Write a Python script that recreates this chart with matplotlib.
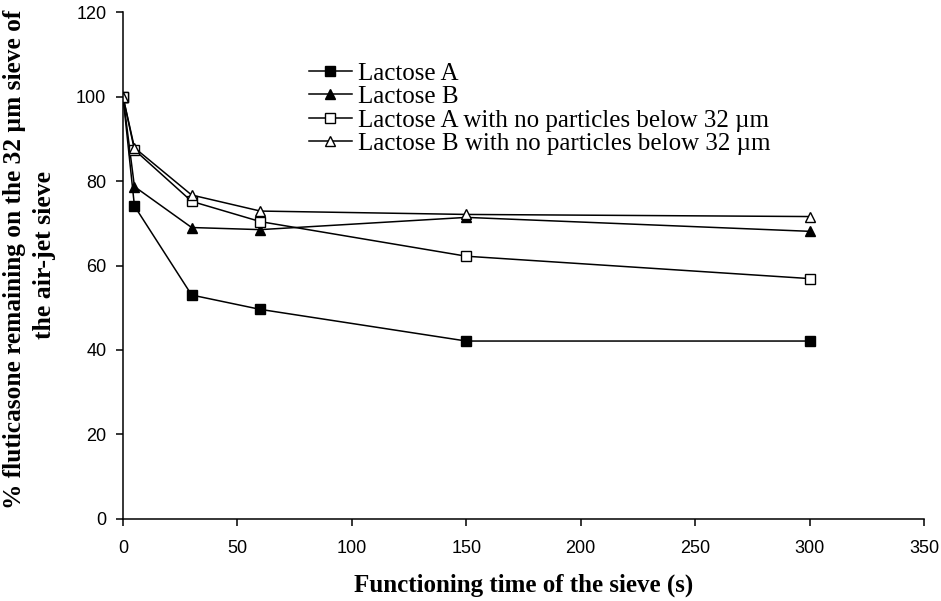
import numpy as np
import matplotlib
matplotlib.use('Agg')
import matplotlib.pyplot as plt

time_s = [0, 5, 30, 60, 150, 300]
lactose_a = [100, 74.1, 53.0, 49.6, 42.1, 42.1]
lactose_b = [100, 78.7, 69.0, 68.5, 71.4, 68.1]
lactose_a_np = [100, 87.4, 75.2, 70.4, 62.2, 56.9]
lactose_b_np = [100, 87.9, 76.7, 72.9, 72.1, 71.6]
labels = ['Lactose A', 'Lactose B',
          'Lactose A with no particles below 32 \u00b5m',
          'Lactose B with no particles below 32 \u00b5m']

fig = plt.figure(figsize=(9.41, 6.01), dpi=100)
ax = fig.add_axes([123/941, 82.3/601, 801/941, 506.4/601])

ax.plot(time_s, lactose_a, color='black', lw=1.1, marker='s', ms=6.5,
        mfc='black', mec='black', label=labels[0])
ax.plot(time_s, lactose_b, color='black', lw=1.1, marker='^', ms=7.5,
        mfc='black', mec='black', label=labels[1])
ax.plot(time_s, lactose_a_np, color='black', lw=1.1, marker='s', ms=6.5,
        mfc='white', mec='black', label=labels[2])
ax.plot(time_s, lactose_b_np, color='black', lw=1.1, marker='^', ms=7.5,
        mfc='white', mec='black', label=labels[3])

ax.set_xlim(0, 350)
ax.set_ylim(0, 120)
ax.set_xticks(np.arange(0, 351, 50))
ax.set_yticks(np.arange(0, 121, 20))
for s in ['top', 'right']:
    ax.spines[s].set_visible(False)
for s in ['left', 'bottom']:
    ax.spines[s].set_linewidth(1.1)
ax.tick_params(direction='out', length=5, width=1.1, labelsize=13)
ax.tick_params(axis='x', pad=10)
ax.tick_params(axis='y', pad=7)
for t in ax.get_xticklabels() + ax.get_yticklabels():
    t.set_fontfamily('Liberation Sans')

ax.set_xlabel('Functioning time of the sieve (s)', family='Liberation Serif',
              fontweight='bold', fontsize=18, labelpad=12)
fig.text(15/941, 1 - 259/601,
         '% fluticasone remaining on the 32 \u00b5m sieve of', rotation=90,
         ha='center', va='center', family='Liberation Serif',
         fontweight='bold', fontsize=18.3)
fig.text(45/941, 1 - 255/601, 'the air-jet sieve', rotation=90,
         ha='center', va='center', family='Liberation Serif',
         fontweight='bold', fontsize=18.5)

leg = ax.legend(loc='upper left', bbox_to_anchor=(309/941, 1 - 62/601),
                bbox_transform=fig.transFigure, frameon=False,
                prop={'family': 'Liberation Serif', 'size': 18},
                handlelength=1.7, handletextpad=0.25, labelspacing=0.04,
                borderaxespad=0, borderpad=0)

fig.savefig('out.png', dpi=100)
